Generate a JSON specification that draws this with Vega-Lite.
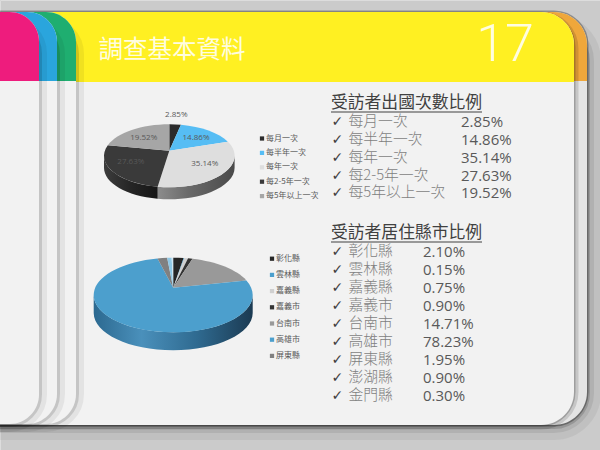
{"$schema":"https://vega.github.io/schema/vega-lite/v6.json","width":600,"height":450,"padding":0,"autosize":"none","background":"#cbcbcb","data":{"values":[{"slide":17}]},
"datasets":{"trips":[{"name":"每月一次","value":0.0285},{"name":"每半年一次","value":0.1486},{"name":"每年一次","value":0.3514},{"name":"每2-5年一次","value":0.2763},{"name":"每5年以上一次","value":0.1952}],
"counties":[{"name":"彰化縣","value":0.021},{"name":"雲林縣","value":0.0015},{"name":"嘉義縣","value":0.0075},{"name":"嘉義市","value":0.009},{"name":"台南市","value":0.1471},{"name":"高雄市","value":0.7823},{"name":"屏東縣","value":0.0195},{"name":"澎湖縣","value":0.009},{"name":"金門縣","value":0.003}]},
"resolve":{"scale":{"color":"independent"}},
"layer":[
{"mark":{"type":"rect","fill":"transparent","stroke":"#000","strokeOpacity":0.05,"strokeWidth":28,"cornerRadiusTopRight":33,"cornerRadiusBottomRight":33},"encoding":{"x":{"datum":-20,"type":"quantitative","scale":{"domain":[0,600]},"axis":null},"x2":{"datum":587},"y":{"datum":28,"type":"quantitative","scale":{"domain":[450,0]},"axis":null},"y2":{"datum":426}}},
{"mark":{"type":"rect","fill":"transparent","stroke":"#000","strokeOpacity":0.08,"strokeWidth":14,"cornerRadiusTopRight":33,"cornerRadiusBottomRight":33},"encoding":{"x":{"datum":-20,"type":"quantitative","scale":{"domain":[0,600]},"axis":null},"x2":{"datum":587},"y":{"datum":28,"type":"quantitative","scale":{"domain":[450,0]},"axis":null},"y2":{"datum":426}}},
{"mark":{"type":"rect","fill":"transparent","stroke":"#000","strokeOpacity":0.15,"strokeWidth":6,"cornerRadiusTopRight":33,"cornerRadiusBottomRight":33},"encoding":{"x":{"datum":-20,"type":"quantitative","scale":{"domain":[0,600]},"axis":null},"x2":{"datum":587},"y":{"datum":28,"type":"quantitative","scale":{"domain":[450,0]},"axis":null},"y2":{"datum":426}}},
{"mark":{"type":"rect","fill":"transparent","stroke":"#000","strokeOpacity":0.3,"strokeWidth":3,"cornerRadiusTopRight":33,"cornerRadiusBottomRight":33},"encoding":{"x":{"datum":-20,"type":"quantitative","scale":{"domain":[0,600]},"axis":null},"x2":{"datum":587},"y":{"datum":12,"type":"quantitative","scale":{"domain":[450,0]},"axis":null},"y2":{"datum":425}}},
{"mark":{"type":"rect","fill":"#e4e4e4","cornerRadiusTopRight":33,"cornerRadiusBottomRight":33},"encoding":{"x":{"datum":-20,"type":"quantitative","scale":{"domain":[0,600]},"axis":null},"x2":{"datum":587},"y":{"datum":12,"type":"quantitative","scale":{"domain":[450,0]},"axis":null},"y2":{"datum":425}}},
{"mark":{"type":"rect","fill":"#efa73b","cornerRadiusTopRight":33},"encoding":{"x":{"datum":-20,"type":"quantitative","scale":{"domain":[0,600]},"axis":null},"x2":{"datum":587},"y":{"datum":12,"type":"quantitative","scale":{"domain":[450,0]},"axis":null},"y2":{"datum":81}}},
{"mark":{"type":"rect","fill":"transparent","stroke":"#000","strokeOpacity":0.13,"strokeWidth":9,"cornerRadiusTopRight":33,"cornerRadiusBottomRight":33},"encoding":{"x":{"datum":-20,"type":"quantitative","scale":{"domain":[0,600]},"axis":null},"x2":{"datum":574},"y":{"datum":16,"type":"quantitative","scale":{"domain":[450,0]},"axis":null},"y2":{"datum":425}}},
{"mark":{"type":"rect","fill":"transparent","stroke":"#000","strokeOpacity":0.2,"strokeWidth":3,"cornerRadiusTopRight":33,"cornerRadiusBottomRight":33},"encoding":{"x":{"datum":-20,"type":"quantitative","scale":{"domain":[0,600]},"axis":null},"x2":{"datum":574},"y":{"datum":14,"type":"quantitative","scale":{"domain":[450,0]},"axis":null},"y2":{"datum":425}}},
{"mark":{"type":"rect","fill":"#f2f2f2","cornerRadiusTopRight":33,"cornerRadiusBottomRight":33},"encoding":{"x":{"datum":-20,"type":"quantitative","scale":{"domain":[0,600]},"axis":null},"x2":{"datum":574},"y":{"datum":12,"type":"quantitative","scale":{"domain":[450,0]},"axis":null},"y2":{"datum":425}}},
{"mark":{"type":"rect","fill":"#fff022","cornerRadiusTopRight":33},"encoding":{"x":{"datum":-20,"type":"quantitative","scale":{"domain":[0,600]},"axis":null},"x2":{"datum":574},"y":{"datum":12,"type":"quantitative","scale":{"domain":[450,0]},"axis":null},"y2":{"datum":82}}},

{"mark":{"type":"rect","fill":"transparent","stroke":"#000","strokeOpacity":0.06,"strokeWidth":16,"cornerRadiusTopRight":30,"cornerRadiusBottomRight":30},"encoding":{"x":{"datum":-20,"type":"quantitative","scale":{"domain":[0,600]},"axis":null},"x2":{"datum":76},"y":{"datum":24,"type":"quantitative","scale":{"domain":[450,0]},"axis":null},"y2":{"datum":424}}},
{"mark":{"type":"rect","fill":"transparent","stroke":"#000","strokeOpacity":0.13,"strokeWidth":6,"cornerRadiusTopRight":30,"cornerRadiusBottomRight":30},"encoding":{"x":{"datum":-20,"type":"quantitative","scale":{"domain":[0,600]},"axis":null},"x2":{"datum":76},"y":{"datum":24,"type":"quantitative","scale":{"domain":[450,0]},"axis":null},"y2":{"datum":424}}},
{"mark":{"type":"rect","fill":"#f2f2f2","cornerRadiusTopRight":30,"cornerRadiusBottomRight":30},"encoding":{"x":{"datum":-20,"type":"quantitative","scale":{"domain":[0,600]},"axis":null},"x2":{"datum":76},"y":{"datum":12,"type":"quantitative","scale":{"domain":[450,0]},"axis":null},"y2":{"datum":424}}},
{"mark":{"type":"rect","fill":"#1fae70","cornerRadiusTopRight":30},"encoding":{"x":{"datum":-20,"type":"quantitative","scale":{"domain":[0,600]},"axis":null},"x2":{"datum":76},"y":{"datum":12,"type":"quantitative","scale":{"domain":[450,0]},"axis":null},"y2":{"datum":81}}},

{"mark":{"type":"rect","fill":"transparent","stroke":"#000","strokeOpacity":0.06,"strokeWidth":16,"cornerRadiusTopRight":30,"cornerRadiusBottomRight":30},"encoding":{"x":{"datum":-20,"type":"quantitative","scale":{"domain":[0,600]},"axis":null},"x2":{"datum":57},"y":{"datum":24,"type":"quantitative","scale":{"domain":[450,0]},"axis":null},"y2":{"datum":424}}},
{"mark":{"type":"rect","fill":"transparent","stroke":"#000","strokeOpacity":0.13,"strokeWidth":6,"cornerRadiusTopRight":30,"cornerRadiusBottomRight":30},"encoding":{"x":{"datum":-20,"type":"quantitative","scale":{"domain":[0,600]},"axis":null},"x2":{"datum":57},"y":{"datum":24,"type":"quantitative","scale":{"domain":[450,0]},"axis":null},"y2":{"datum":424}}},
{"mark":{"type":"rect","fill":"#f2f2f2","cornerRadiusTopRight":30,"cornerRadiusBottomRight":30},"encoding":{"x":{"datum":-20,"type":"quantitative","scale":{"domain":[0,600]},"axis":null},"x2":{"datum":57},"y":{"datum":12,"type":"quantitative","scale":{"domain":[450,0]},"axis":null},"y2":{"datum":424}}},
{"mark":{"type":"rect","fill":"#2aa5dd","cornerRadiusTopRight":30},"encoding":{"x":{"datum":-20,"type":"quantitative","scale":{"domain":[0,600]},"axis":null},"x2":{"datum":57},"y":{"datum":12,"type":"quantitative","scale":{"domain":[450,0]},"axis":null},"y2":{"datum":81}}},

{"mark":{"type":"rect","fill":"transparent","stroke":"#000","strokeOpacity":0.06,"strokeWidth":16,"cornerRadiusTopRight":30,"cornerRadiusBottomRight":30},"encoding":{"x":{"datum":-20,"type":"quantitative","scale":{"domain":[0,600]},"axis":null},"x2":{"datum":39},"y":{"datum":24,"type":"quantitative","scale":{"domain":[450,0]},"axis":null},"y2":{"datum":424}}},
{"mark":{"type":"rect","fill":"transparent","stroke":"#000","strokeOpacity":0.13,"strokeWidth":6,"cornerRadiusTopRight":30,"cornerRadiusBottomRight":30},"encoding":{"x":{"datum":-20,"type":"quantitative","scale":{"domain":[0,600]},"axis":null},"x2":{"datum":39},"y":{"datum":24,"type":"quantitative","scale":{"domain":[450,0]},"axis":null},"y2":{"datum":424}}},
{"mark":{"type":"rect","fill":"#f2f2f2","cornerRadiusTopRight":30,"cornerRadiusBottomRight":30},"encoding":{"x":{"datum":-20,"type":"quantitative","scale":{"domain":[0,600]},"axis":null},"x2":{"datum":39},"y":{"datum":12,"type":"quantitative","scale":{"domain":[450,0]},"axis":null},"y2":{"datum":424}}},
{"mark":{"type":"rect","fill":"#ee1c7d","cornerRadiusTopRight":30},"encoding":{"x":{"datum":-20,"type":"quantitative","scale":{"domain":[0,600]},"axis":null},"x2":{"datum":39},"y":{"datum":12,"type":"quantitative","scale":{"domain":[450,0]},"axis":null},"y2":{"datum":81}}},

{"mark":{"type":"text","text":"調查基本資料","font":"Noto Sans CJK TC","fontSize":24.5,"fill":"#fffde0","align":"left","baseline":"middle"},"encoding":{"x":{"datum":98.5,"type":"quantitative","scale":{"domain":[0,600]},"axis":null},"y":{"datum":50.5,"type":"quantitative","scale":{"domain":[450,0]},"axis":null}}},
{"mark":{"type":"text","text":"17","font":"Roboto","fontWeight":300,"fontSize":52,"fill":"#fffde0","align":"center","baseline":"middle"},"encoding":{"x":{"datum":505,"type":"quantitative","scale":{"domain":[0,600]},"axis":null},"y":{"datum":45,"type":"quantitative","scale":{"domain":[450,0]},"axis":null}}},
{"mark":{"type":"text","text":"受訪者出國次數比例","font":"Noto Sans CJK TC","fontSize":16.8,"fill":"#404040","align":"left","baseline":"middle"},"encoding":{"x":{"datum":331,"type":"quantitative","scale":{"domain":[0,600]},"axis":null},"y":{"datum":102.5,"type":"quantitative","scale":{"domain":[450,0]},"axis":null}}},
{"mark":{"type":"rule","stroke":"#404040","strokeWidth":1},"encoding":{"x":{"datum":331,"type":"quantitative","scale":{"domain":[0,600]},"axis":null},"x2":{"datum":482},"y":{"datum":112,"type":"quantitative","scale":{"domain":[450,0]},"axis":null}}},
{"mark":{"type":"text","text":"受訪者居住縣市比例","font":"Noto Sans CJK TC","fontSize":16.8,"fill":"#404040","align":"left","baseline":"middle"},"encoding":{"x":{"datum":331,"type":"quantitative","scale":{"domain":[0,600]},"axis":null},"y":{"datum":233,"type":"quantitative","scale":{"domain":[450,0]},"axis":null}}},
{"mark":{"type":"rule","stroke":"#404040","strokeWidth":1},"encoding":{"x":{"datum":331,"type":"quantitative","scale":{"domain":[0,600]},"axis":null},"x2":{"datum":482},"y":{"datum":242,"type":"quantitative","scale":{"domain":[450,0]},"axis":null}}},

{"data":{"name":"trips"},
"transform":[
{"window":[{"op":"sum","field":"value","as":"cum"},{"op":"row_number","as":"line"}],"frame":[null,0],"ignorePeers":true},
{"calculate":"2*PI*(datum.cum-datum.value)","as":"a0"},
{"calculate":"2*PI*datum.cum","as":"a1"},
{"calculate":"max(datum.a0,PI/2)","as":"wa"},
{"calculate":"min(datum.a1,3*PI/2)","as":"wb"},
{"calculate":"round(65.3*sin(datum.a0)*100)/100","as":"x0"},
{"calculate":"round(-31.5*cos(datum.a0)*100)/100","as":"y0"},
{"calculate":"round(65.3*sin(datum.a1)*100)/100","as":"x1"},
{"calculate":"round(-31.5*cos(datum.a1)*100)/100","as":"y1"},
{"calculate":"round(65.3*sin(datum.wa)*100)/100","as":"xa"},
{"calculate":"round(-31.5*cos(datum.wa)*100)/100","as":"ya"},
{"calculate":"round(65.3*sin(datum.wb)*100)/100","as":"xb"},
{"calculate":"round(-31.5*cos(datum.wb)*100)/100","as":"yb"},
{"calculate":"'M0,-5L'+datum.x0+','+datum.y0+'A65.3,31.5 0 '+(datum.a1-datum.a0>PI?1:0)+' 1 '+datum.x1+','+datum.y1+'Z'","as":"topPath"},
{"calculate":"'M'+datum.xa+','+datum.ya+'A65.3,31.5 0 0 1 '+datum.xb+','+datum.yb+'L'+datum.xb+','+(datum.yb+12)+'A65.3,31.5 0 0 0 '+datum.xa+','+(datum.ya+12)+'Z'","as":"wallPath"},
{"calculate":"(datum.a0+datum.a1)/2","as":"mid"},
{"calculate":"169.3+65.3*sin(datum.mid)*(datum.value<0.05?1.2:0.68)","as":"labelX"},
{"calculate":"155.8-3-31.5*cos(datum.mid)*(datum.value<0.05?1.2:0.58)","as":"labelY"},
{"calculate":"121.8+17.9*(datum.line-1)","as":"listY"}
],
"layer":[
{"transform":[{"filter":"datum.name==='每年一次'"}],"mark":{"type":"point","filled":true,"opacity":1,"size":4,"fill":{"gradient":"linear","x1":0,"x2":1,"y1":0,"y2":0,"stops":[{"offset":0,"color":"#8c8c8c"},{"offset":0.4,"color":"#6a6a6a"},{"offset":1,"color":"#4a4a4a"}]}},"encoding":{"x":{"datum":169.3,"type":"quantitative","scale":{"domain":[0,600]},"axis":null},"y":{"datum":155.8,"type":"quantitative","scale":{"domain":[450,0]},"axis":null},"shape":{"field":"wallPath","type":"nominal","scale":null,"legend":null}}},
{"transform":[{"filter":"datum.name==='每2-5年一次'"}],"mark":{"type":"point","filled":true,"opacity":1,"size":4,"fill":{"gradient":"linear","x1":0,"x2":1,"y1":0,"y2":0,"stops":[{"offset":0,"color":"#3c3c3c"},{"offset":0.5,"color":"#252525"},{"offset":1,"color":"#161616"}]}},"encoding":{"x":{"datum":169.3,"type":"quantitative","scale":{"domain":[0,600]},"axis":null},"y":{"datum":155.8,"type":"quantitative","scale":{"domain":[450,0]},"axis":null},"shape":{"field":"wallPath","type":"nominal","scale":null,"legend":null}}},
{"mark":{"type":"point","filled":true,"opacity":1,"size":4},"encoding":{"x":{"datum":169.3,"type":"quantitative","scale":{"domain":[0,600]},"axis":null},"y":{"datum":155.8,"type":"quantitative","scale":{"domain":[450,0]},"axis":null},"shape":{"field":"topPath","type":"nominal","scale":null,"legend":null},
"color":{"field":"name","type":"nominal","scale":{"domain":["每月一次","每半年一次","每年一次","每2-5年一次","每5年以上一次"],"range":["#2b2b2b","#56bdf4","#dedede","#3a3a3a","#a6a6a6"]},"legend":{"orient":"none","legendX":258,"legendY":134.5,"title":null,"symbolType":"square","symbolSize":18,"symbolStrokeWidth":0,"labelFontSize":8,"labelFont":"Noto Sans CJK TC","labelColor":"#595959","labelOffset":0,"rowPadding":6.4,"padding":0}}}},
{"mark":{"type":"text","font":"Open Sans","fontSize":8,"fill":"#595959","align":"center","baseline":"middle"},"encoding":{"x":{"field":"labelX","type":"quantitative","scale":{"domain":[0,600]},"axis":null},"y":{"field":"labelY","type":"quantitative","scale":{"domain":[450,0]},"axis":null},"text":{"field":"value","type":"quantitative","format":".2%"}}},
{"mark":{"type":"text","text":"✓","font":"DejaVu Sans","fontSize":14,"fill":"#404040","align":"left","baseline":"middle"},"encoding":{"x":{"datum":331.5,"type":"quantitative","scale":{"domain":[0,600]},"axis":null},"y":{"field":"listY","type":"quantitative","scale":{"domain":[450,0]},"axis":null}}},
{"mark":{"type":"text","font":"Noto Sans CJK TC","fontWeight":300,"fontSize":14.8,"fill":"#7f7f7f","align":"left","baseline":"middle"},"encoding":{"x":{"datum":348.5,"type":"quantitative","scale":{"domain":[0,600]},"axis":null},"y":{"field":"listY","type":"quantitative","scale":{"domain":[450,0]},"axis":null},"text":{"field":"name","type":"nominal"}}},
{"mark":{"type":"text","font":"Open Sans","fontSize":15,"fill":"#595959","align":"left","baseline":"middle"},"encoding":{"x":{"datum":461,"type":"quantitative","scale":{"domain":[0,600]},"axis":null},"y":{"field":"listY","type":"quantitative","scale":{"domain":[450,0]},"axis":null},"text":{"field":"value","type":"quantitative","format":".2%"}}}
]},

{"data":{"name":"counties"},
"transform":[
{"window":[{"op":"sum","field":"value","as":"cum"},{"op":"row_number","as":"line"}],"frame":[null,0],"ignorePeers":true},
{"calculate":"2*PI*(datum.cum-datum.value)","as":"a0"},
{"calculate":"2*PI*datum.cum","as":"a1"},
{"calculate":"max(datum.a0,PI/2)","as":"wa"},
{"calculate":"min(datum.a1,3*PI/2)","as":"wb"},
{"calculate":"round(79.5*sin(datum.a0)*100)/100","as":"x0"},
{"calculate":"round(-37.3*cos(datum.a0)*100)/100","as":"y0"},
{"calculate":"round(79.5*sin(datum.a1)*100)/100","as":"x1"},
{"calculate":"round(-37.3*cos(datum.a1)*100)/100","as":"y1"},
{"calculate":"round(79.5*sin(datum.wa)*100)/100","as":"xa"},
{"calculate":"round(-37.3*cos(datum.wa)*100)/100","as":"ya"},
{"calculate":"round(79.5*sin(datum.wb)*100)/100","as":"xb"},
{"calculate":"round(-37.3*cos(datum.wb)*100)/100","as":"yb"},
{"calculate":"'M0,-7.3L'+datum.x0+','+datum.y0+'A79.5,37.3 0 '+(datum.a1-datum.a0>PI?1:0)+' 1 '+datum.x1+','+datum.y1+'Z'","as":"topPath"},
{"calculate":"'M'+datum.xa+','+datum.ya+'A79.5,37.3 0 0 1 '+datum.xb+','+datum.yb+'L'+datum.xb+','+(datum.yb+18)+'A79.5,37.3 0 0 0 '+datum.xa+','+(datum.ya+18)+'Z'","as":"wallPath"},
{"calculate":"252.4+18*(datum.line-1)","as":"listY"}
],
"layer":[
{"transform":[{"filter":"datum.name==='高雄市'"}],"mark":{"type":"point","filled":true,"opacity":1,"size":4,"fill":{"gradient":"linear","x1":0,"x2":1,"y1":0,"y2":0,"stops":[{"offset":0,"color":"#2c6990"},{"offset":0.3,"color":"#4a90bb"},{"offset":0.65,"color":"#2f6a90"},{"offset":1,"color":"#1b3a52"}]}},"encoding":{"x":{"datum":173.2,"type":"quantitative","scale":{"domain":[0,600]},"axis":null},"y":{"datum":295,"type":"quantitative","scale":{"domain":[450,0]},"axis":null},"shape":{"field":"wallPath","type":"nominal","scale":null,"legend":null}}},
{"mark":{"type":"point","filled":true,"opacity":1,"size":4},"encoding":{"x":{"datum":173.2,"type":"quantitative","scale":{"domain":[0,600]},"axis":null},"y":{"datum":295,"type":"quantitative","scale":{"domain":[450,0]},"axis":null},"shape":{"field":"topPath","type":"nominal","scale":null,"legend":null},
"color":{"field":"name","type":"nominal","scale":{"domain":["彰化縣","雲林縣","嘉義縣","嘉義市","台南市","高雄市","屏東縣","澎湖縣","金門縣"],"range":["#262626","#4c9fcd","#d0d0d0","#333333","#999999","#4c9fcd","#808080","#8fc8e6","#cfe6f3"]},"legend":{"orient":"none","legendX":268,"legendY":254.7,"title":null,"values":["彰化縣","雲林縣","嘉義縣","嘉義市","台南市","高雄市","屏東縣"],"symbolType":"square","symbolSize":18,"symbolStrokeWidth":0,"labelFontSize":8,"labelFont":"Noto Sans CJK TC","labelColor":"#595959","labelOffset":0,"rowPadding":8.2,"padding":0}}}},
{"mark":{"type":"text","text":"✓","font":"DejaVu Sans","fontSize":14,"fill":"#404040","align":"left","baseline":"middle"},"encoding":{"x":{"datum":331.5,"type":"quantitative","scale":{"domain":[0,600]},"axis":null},"y":{"field":"listY","type":"quantitative","scale":{"domain":[450,0]},"axis":null}}},
{"mark":{"type":"text","font":"Noto Sans CJK TC","fontWeight":300,"fontSize":14.8,"fill":"#7f7f7f","align":"left","baseline":"middle"},"encoding":{"x":{"datum":348.5,"type":"quantitative","scale":{"domain":[0,600]},"axis":null},"y":{"field":"listY","type":"quantitative","scale":{"domain":[450,0]},"axis":null},"text":{"field":"name","type":"nominal"}}},
{"mark":{"type":"text","font":"Open Sans","fontSize":15,"fill":"#595959","align":"left","baseline":"middle"},"encoding":{"x":{"datum":423,"type":"quantitative","scale":{"domain":[0,600]},"axis":null},"y":{"field":"listY","type":"quantitative","scale":{"domain":[450,0]},"axis":null},"text":{"field":"value","type":"quantitative","format":".2%"}}}
]}
]}
